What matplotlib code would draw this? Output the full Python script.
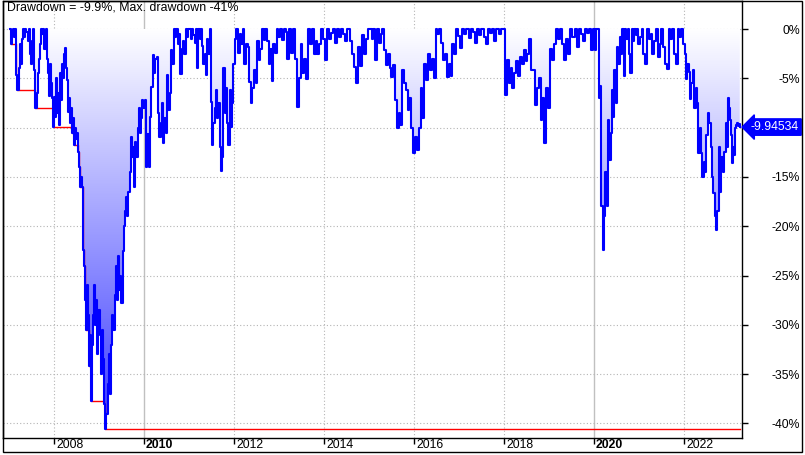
import numpy as np
import matplotlib
matplotlib.use("Agg")
import matplotlib.pyplot as plt
import matplotlib.transforms as mtransforms
from matplotlib.colors import LinearSegmentedColormap
from matplotlib.patches import Rectangle

plt.rcParams['font.family'] = ['Liberation Sans', 'DejaVu Sans']

# drawdown in %, read per calendar year
dd_2007 = [0, -1.5, -0.6, 0, -0.8, 0, -4.7, -6.2, -4.0, -1.5, -3.5, -1.0, 0, -0.8, 0, -0.3, -1.2, 0,
           -2.5, -3.5, -1.2, 0, -4.2, -8.0, -6.5, -4.5, -3.0, -1.5, 0, -0.5, 0, -2.0, 0, -3.0, -4.5,
           -6.8, -3.5, -5.5, -7.0, -9.9]
dd_2008 = [-6.9, -8.9, -5.0, -8.5, -6.5, -9.7, -4.5, -7.2, -3.5, -5.0, -2.5, -1.9, -4.0, -5.2, -8.4,
           -7.0, -9.5, -8.0, -10.5, -9.0, -11.8, -10.0, -11.2, -10.5, -12.5, -14.0, -16.0, -15.0,
           -16.0, -22.4, -24.0, -27.5, -30.5, -26.0, -29.0, -34.2, -31.0, -37.7, -32.0, -29.0,
           -26.0, -30.0, -27.5, -33.0, -28.5]
dd_2009 = [-31.0, -35.0, -30.5, -33.5, -38.0, -40.6, -39.0, -36.0, -33.0, -37.0, -32.0, -29.0, -30.5,
           -27.0, -24.0, -27.5, -23.0, -26.5, -25.0, -27.8, -22.5, -20.0, -18.5, -17.0, -19.0,
           -16.5, -14.5, -11.0, -13.0, -12.0, -16.0, -11.5, -13.0, -10.0, -8.0, -10.5, -9.0, -7.2,
           -8.0]
dd_2010 = [-7.2, -14.0, -10.6, -14.0, -8.9, -5.9, -2.6, -4.5, -3.0, -2.8, -8.5, -11.0, -9.5, -7.5,
           -11.6, -9.0, -10.5, -4.7, -8.2, -6.5, -2.1, -3.5, 0, -0.8, 0, -1.5, -0.5, -4.6, -2.0,
           -1.2, -2.5, 0, -0.8, 0]
dd_2011 = [0, -1.0, 0, -0.6, -1.4, 0, -4.0, 0, -1.0, 0, -1.7, -3.5, -2.5, -4.7, -1.0, -2.5, 0, -7.4,
           -11.8, -9.5, -8.0, -6.2, -9.0, -7.5, -12.0, -14.4, -13.0, -4.0, -8.5, -6.0, -9.5, -11.8,
           -6.2, -9.9, -7.5, -3.5]
dd_2012 = [-1.0, 0, -2.4, -0.5, -1.5, 0, -3.6, -1.5, -1.8, -5.4, -7.5, -6.0, -4.2, -5.5, -1.2, -3.1,
           -2.0, 0, -1.1, 0, -1.2, -3.5, -2.0, -5.3, -1.5, -2.4, 0, -0.8]
dd_2013 = [0, -1.1, 0, -0.3, -3.0, 0, -2.4, 0, -3.0, -7.9, -5.0, -1.5, -4.5, -3.0, -5.1, 0, -1.5, 0,
           -2.5, -1.2, -2.5, -1.5, 0, -1.0]
dd_2014 = [-3.1, 0, -1.0, -0.4, 0, -1.4, 0, -0.8, 0, -0.5, -1.2, 0, -1.2, -2.5, -3.9, -5.5, -1.8,
           -3.8, -0.6, -2.5, -1.0, 0]
dd_2015 = [0, -1.0, 0, -3.1, 0, -1.4, -0.5, 0, -2.1, -3.7, -2.5, -4.0, -4.9, -3.7, -7.2, -10.0, -8.5,
           -9.7, -4.2, -5.5, -6.2, -8.2, -7.0, -10.0, -12.6]
dd_2016 = [-11.0, -12.3, -10.0, -6.0, -9.0, -3.5, -5.2, -2.5, -4.2, -3.0, -5.0, 0, -0.5, 0, -1.4,
           -3.1, -2.5, -4.9, -3.5, -4.8, -1.5, -2.5, 0, -0.7]
dd_2017 = [-1.9, 0, -0.5, 0, -0.9, 0, -0.3, -1.4, 0, -0.6, 0, -0.8, -1.5, 0, -0.4, 0, -1.2, 0, -0.5,
           0, 0]
dd_2018 = [-6.7, -3.1, -5.5, -4.0, -6.0, -4.5, -3.2, -4.8, -2.8, -3.5, -2.1, -3.2, -2.5, -1.0, -4.2,
           -4.2, -7.7, -6.0, -5.0, -9.2, -7.0, -11.6, -6.0, -8.0]
dd_2019 = [-2.0, -3.1, -1.5, 0, -1.0, 0, -1.5, -3.1, -1.0, -2.5, 0, -0.8, 0, -1.8, 0, -0.5, -1.2, 0,
           -0.4, 0, -2.1, 0]
dd_2020 = [-2.1, 0, 0, -7.0, -5.8, -18.0, -22.4, -19.0, -14.5, -18.0, -9.2, -13.3, -10.5, -6.2, -8.9,
           -4.2, -7.5, -1.8, -3.5, -0.8, -2.5, 0, -4.8, 0, -1.0, 0, -2.5, -4.5, 0, -1.2, 0, -0.6,
           0, -1.5]
dd_2021 = [-0.8, 0, -2.5, -3.5, 0, -1.0, -0.5, -2.5, -1.2, 0, -2.8, -1.5, 0, -1.8, -3.5, -4.1, 0,
           -1.0, 0, -2.5, -3.6, 0, -0.8, 0, -1.5]
dd_2022 = [-2.5, -5.1, -3.5, -4.4, -7.1, -5.5, -4.2, -8.0, -6.0, -7.5, -12.6, -10.0, -12.6, -15.0,
           -13.5, -14.5, -10.8, -8.5, -9.5, -12.0, -15.0, -16.6, -19.0, -20.4, -18.5, -12.0, -16.5,
           -13.0, -14.5, -12.5, -9.5, -12.0, -7.0]
dd_2023 = [-8.0, -9.2, -10.8, -13.6, -12.0, -12.8, -10.0, -9.7, -9.5, -9.8, -9.6, -9.94534]

years = list(range(2007, 2024))
dd_by_year = [dd_2007, dd_2008, dd_2009, dd_2010, dd_2011, dd_2012, dd_2013, dd_2014, dd_2015,
              dd_2016, dd_2017, dd_2018, dd_2019, dd_2020, dd_2021, dd_2022, dd_2023]
year_span = {2023: 0.25}

xs, dd = [], []
for yr, vals in zip(years, dd_by_year):
    span = year_span.get(yr, 1.0)
    n = len(vals)
    xs.extend(yr + span * (np.arange(n) + 0.5) / n)
    dd.extend(vals)
xs = np.array(xs)
dd = np.array(dd)
maxdd = np.minimum.accumulate(dd)

W, H = 805, 455
fig = plt.figure(figsize=(W / 100, H / 100), dpi=100)
ax = fig.add_axes([3 / W, (H - 438) / H, (742 - 3) / W, (438 - 1) / H])

x0, x1 = 2006.867, 2023.29
y0, y1 = -41.48, 2.84

# gradient fill between 0 and the drawdown line
poly = ax.fill_between(xs, dd, 0, step='post', facecolor='none', edgecolor='none')
cmap = LinearSegmentedColormap.from_list('dd', ['#ffffff', '#3a3aff'])
grad = np.linspace(0, 1, 256).reshape(-1, 1)
im = ax.imshow(grad, extent=[x0, x1, -41.0, 0], aspect='auto', cmap=cmap, origin='upper', zorder=1)
im.set_clip_path(poly.get_paths()[0], ax.transData)

ax.plot(xs, maxdd, color='red', lw=1.0, drawstyle='steps-post', zorder=2)
ax.plot(xs, dd, color='blue', lw=1.5, drawstyle='steps-post', zorder=3)

ax.set_xlim(x0, x1)
ax.set_ylim(y0, y1)

# grid
for yr in range(2008, 2023, 2):
    if yr % 10 == 0:
        ax.axvline(yr, color='#c0c0c0', lw=1, zorder=0.5)
    else:
        ax.axvline(yr, color='#b4b4b4', lw=0.8, ls=(0, (1, 2)), zorder=0.5)
for v in range(-40, 1, 5):
    ax.axhline(v, color='#b4b4b4', lw=0.8, ls=(0, (1, 2)), zorder=0.5)

# x ticks
xt = list(range(2008, 2023, 2))
ax.set_xticks(xt)
ax.set_xticklabels([str(y) for y in xt], fontsize=8.8)
ax.tick_params(axis='x', direction='out', length=4, width=1, pad=-3)
for lbl, yr in zip(ax.get_xticklabels(), xt):
    lbl.set_ha('left')
    lbl.set_transform(lbl.get_transform() + mtransforms.ScaledTranslation(2 / 100, 0, fig.dpi_scale_trans))
    if yr % 10 == 0:
        lbl.set_fontweight('bold')

# y ticks on right (-10% is covered by the value marker)
yt = list(range(-40, 1, 5))
ax.yaxis.tick_right()
ax.set_yticks(yt)
ax.set_yticklabels(["" if v == -10 else f"{v}%" for v in yt], fontsize=8.8)
ax.tick_params(axis='y', direction='out', length=4, width=1, pad=38)
for lbl in ax.get_yticklabels():
    lbl.set_ha('right')

for s in ax.spines.values():
    s.set_color('black')
    s.set_linewidth(1)

# current value marker
trans = mtransforms.blended_transform_factory(ax.transAxes, ax.transData)
ax.text(1.0, dd[-1], f"{dd[-1]:.5f}".rstrip('0'),
        transform=trans + mtransforms.ScaledTranslation(57 / 100, 0, fig.dpi_scale_trans),
        ha='right', va='center', fontsize=8.8, color='white', zorder=10, clip_on=False,
        bbox=dict(boxstyle='larrow,pad=0.18', fc='#0000ff', ec='#0000ff'))

fig.text(7 / W, 1 - 2 / H, "Drawdown = -9.9%, Max. drawdown -41%", ha='left', va='top', fontsize=8.9)

fig.add_artist(Rectangle((3 / W, 3 / H), 799 / W, 451 / H, transform=fig.transFigure,
                         fill=False, ec='black', lw=1))

fig.savefig('out.png', dpi=100)
